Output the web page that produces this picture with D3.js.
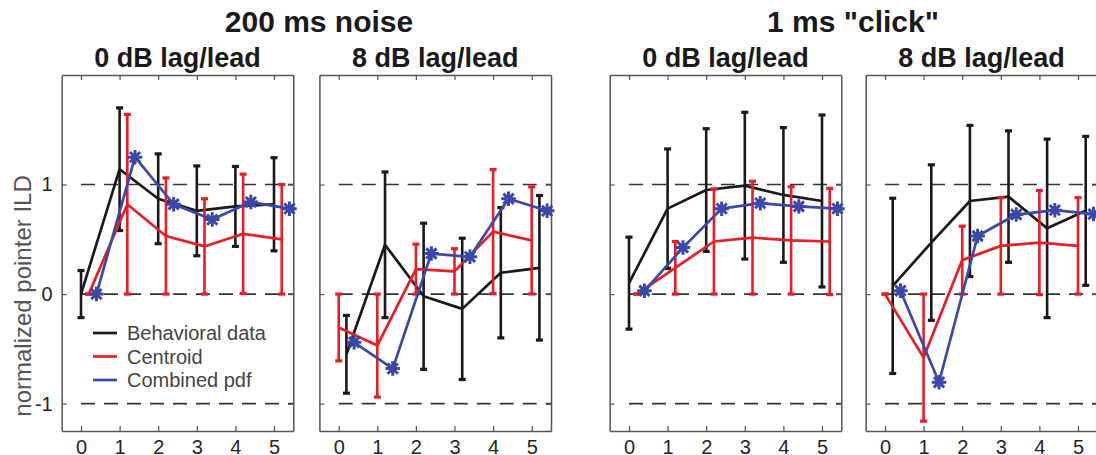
<!DOCTYPE html>
<html>
<head>
<meta charset="utf-8">
<script src="https://cdn.jsdelivr.net/npm/d3@7"></script>
<style>
  body { margin: 0; background: #fff; }
  svg { display: block; font-family: "Liberation Sans", Arial, sans-serif; }
</style>
</head>
<body>
<div id="chart"></div>
<script>
// x positions (lag/lead conditions) and y ticks
var xTicks = [0, 1, 2, 3, 4, 5];
var yTicks = [-1, 0, 1];

// 200 ms noise, 0 dB
var noise0Behav = [0, 1.14, 0.87, 0.76, 0.80, 0.82];
var noise0BehavErr = [0.215, 0.56, 0.41, 0.41, 0.365, 0.425];
var noise0Centroid = [0, 0.82, 0.53, 0.435, 0.55, 0.50];
var noise0CentroidErr = [0, 0.82, 0.53, 0.435, 0.545, 0.50];
var noise0Pdf = [0, 1.25, 0.82, 0.68, 0.84, 0.78];

// 200 ms noise, 8 dB
var noise8Behav = [-0.55, 0.45, -0.02, -0.135, 0.195, 0.24];
var noise8BehavErr = [0.355, 0.665, 0.667, 0.645, 0.595, 0.66];
var noise8Centroid = [-0.305, -0.47, 0.228, 0.207, 0.57, 0.49];
var noise8CentroidErr = [0.305, 0.47, 0.228, 0.207, 0.567, 0.489];
var noise8Pdf = [-0.44, -0.68, 0.37, 0.34, 0.87, 0.76];

// 1 ms click, 0 dB
var click0Behav = [0.10, 0.78, 0.95, 0.99, 0.905, 0.85];
var click0BehavErr = [0.42, 0.545, 0.56, 0.67, 0.615, 0.785];
var click0Centroid = [0, 0.24, 0.48, 0.515, 0.49, 0.48];
var click0CentroidErr = [0, 0.24, 0.48, 0.515, 0.49, 0.485];
var click0Pdf = [0.03, 0.425, 0.78, 0.83, 0.80, 0.78];

// 1 ms click, 8 dB
var click8Behav = [0.075, 0.47, 0.85, 0.89, 0.60, 0.76];
var click8BehavErr = [0.80, 0.71, 0.69, 0.60, 0.815, 0.68];
var click8Centroid = [0, -0.58, 0.31, 0.44, 0.47, 0.44];
var click8CentroidErr = [0, 0.58, 0.31, 0.44, 0.475, 0.44];
var click8Pdf = [0.03, -0.805, 0.53, 0.726, 0.766, 0.73];

var seriesNames = ['Behavioral data', 'Centroid', 'Combined pdf'];
var colors = { behav: '#1a1a1a', centroid: '#ec1c24', pdf: '#3a48a8' };

// panels: black / red offsets swap in the 8 dB panels
var panels = [
	{ title: '0 dB lag/lead', left: 61.7, behav: noise0Behav, behavErr: noise0BehavErr, cen: noise0Centroid, cenErr: noise0CentroidErr, pdf: noise0Pdf, behavOff: 0, cenOff: 0.2 },
	{ title: '8 dB lag/lead', left: 319.4, behav: noise8Behav, behavErr: noise8BehavErr, cen: noise8Centroid, cenErr: noise8CentroidErr, pdf: noise8Pdf, behavOff: 0.2, cenOff: 0 },
	{ title: '0 dB lag/lead', left: 609.7, behav: click0Behav, behavErr: click0BehavErr, cen: click0Centroid, cenErr: click0CentroidErr, pdf: click0Pdf, behavOff: 0, cenOff: 0.2 },
	{ title: '8 dB lag/lead', left: 865.7, behav: click8Behav, behavErr: click8BehavErr, cen: click8Centroid, cenErr: click8CentroidErr, pdf: click8Pdf, behavOff: 0.2, cenOff: 0 }
];
var groupTitles = [
	{ text: '200 ms noise', x: 319 },
	{ text: '1 ms "click"', x: 853 }
];

var width = 1096, height = 455;
var plotTop = 75, plotBottom = 431, panelW = 231.6;
var pdfOff = 0.4;

var svg = d3.select('#chart')
	.append('svg')
	.attr('width', width)
	.attr('height', height);

var y = d3.scaleLinear().domain([-1.25, 2]).range([plotBottom, plotTop]);

// custom 8-spoke asterisk marker
var asterisk = {
	draw: function(ctx, size) {
		var r = Math.sqrt(size) / 2;
		for (var i = 0; i < 4; i++) {
			var a = i * Math.PI / 4;
			ctx.moveTo(-r * Math.cos(a), -r * Math.sin(a));
			ctx.lineTo(r * Math.cos(a), r * Math.sin(a));
		}
	}
};

groupTitles.forEach(function(t) {
	svg.append('text')
		.attr('x', t.x)
		.attr('y', 32)
		.attr('text-anchor', 'middle')
		.style('font-size', '30px')
		.style('font-weight', 'bold')
		.style('fill', '#1a1a1a')
		.text(t.text);
});

function errorBars(g, x, xs, means, errs, color) {
	var cap = 3.5;
	var bars = g.append('g').selectAll('g').data(xs).enter().append('g');
	bars.append('line')
		.attr('x1', function(d) { return x(d); })
		.attr('x2', function(d) { return x(d); })
		.attr('y1', function(d, i) { return y(means[i] + errs[i]); })
		.attr('y2', function(d, i) { return y(means[i] - errs[i]); })
		.style('stroke', color)
		.style('stroke-width', 2.6);
	[1, -1].forEach(function(s) {
		bars.append('line')
			.attr('x1', function(d) { return x(d) - cap; })
			.attr('x2', function(d) { return x(d) + cap; })
			.attr('y1', function(d, i) { return y(means[i] + s * errs[i]); })
			.attr('y2', function(d, i) { return y(means[i] + s * errs[i]); })
			.style('stroke', color)
			.style('stroke-width', 3.2);
	});
}

function seriesLine(g, x, xs, vals, color) {
	var line = d3.line()
		.x(function(d) { return x(d[0]); })
		.y(function(d) { return y(d[1]); });
	g.append('path')
		.datum(d3.zip(xs, vals))
		.attr('d', line)
		.style('fill', 'none')
		.style('stroke', color)
		.style('stroke-width', 2.7)
		.style('stroke-linejoin', 'round');
}

panels.forEach(function(p, pi) {
	var x = d3.scaleLinear().domain([-0.5, 5.5]).range([p.left, p.left + panelW]);
	var g = svg.append('g');

	// dashed reference lines at -1, 0, 1
	g.selectAll('.ref').data(yTicks).enter().append('line')
		.attr('class', 'ref')
		.attr('x1', x(0))
		.attr('x2', x(5.5))
		.attr('y1', function(d) { return y(d); })
		.attr('y2', function(d) { return y(d); })
		.style('stroke', '#333')
		.style('stroke-width', 1.6)
		.style('stroke-dasharray', '14,9');

	// axes (ticks point inwards)
	var axB = g.append('g').attr('transform', 'translate(0,' + plotBottom + ')')
		.call(d3.axisBottom(x).tickValues(xTicks).tickSizeInner(-5).tickSizeOuter(0).tickPadding(9)
			.tickFormat(function(d) { return String(d); }));
	var axT = g.append('g').attr('transform', 'translate(0,' + plotTop + ')')
		.call(d3.axisTop(x).tickValues(xTicks).tickSizeInner(-5).tickSizeOuter(0).tickFormat(''));
	var axL = g.append('g').attr('transform', 'translate(' + p.left + ',0)')
		.call(d3.axisLeft(y).tickValues(yTicks).tickSizeInner(-5).tickSizeOuter(0).tickPadding(9)
			.tickFormat(function(d) { return pi === 0 ? String(d) : ''; }));
	var axR = g.append('g').attr('transform', 'translate(' + (p.left + panelW) + ',0)')
		.call(d3.axisRight(y).tickValues(yTicks).tickSizeInner(-5).tickSizeOuter(0).tickFormat(''));
	[axB, axT, axL, axR].forEach(function(a) {
		a.select('.domain').style('stroke', '#555').style('stroke-width', 1.5);
		a.selectAll('.tick line').style('stroke', '#555').style('stroke-width', 1.2);
		a.selectAll('.tick text')
			.style('font-size', '20px')
			.style('fill', '#262626')
			.style('font-family', '"Liberation Sans", Arial, sans-serif');
	});

	g.append('text')
		.attr('x', p.left + panelW / 2)
		.attr('y', 67)
		.attr('text-anchor', 'middle')
		.style('font-size', '27px')
		.style('font-weight', 'bold')
		.style('fill', '#1a1a1a')
		.text(p.title);

	var bx = xTicks.map(function(d) { return d + p.behavOff; });
	var cx = xTicks.map(function(d) { return d + p.cenOff; });
	var px = xTicks.map(function(d) { return d + pdfOff; });

	errorBars(g, x, bx, p.behav, p.behavErr, colors.behav);
	seriesLine(g, x, bx, p.behav, colors.behav);
	errorBars(g, x, cx, p.cen, p.cenErr, colors.centroid);
	seriesLine(g, x, cx, p.cen, colors.centroid);
	seriesLine(g, x, px, p.pdf, colors.pdf);

	g.selectAll('.star').data(px).enter().append('path')
		.attr('class', 'star')
		.attr('transform', function(d, i) { return 'translate(' + x(d) + ',' + y(p.pdf[i]) + ')'; })
		.attr('d', d3.symbol().type(asterisk).size(210))
		.style('fill', 'none')
		.style('stroke', colors.pdf)
		.style('stroke-width', 3);
});

// y axis label
svg.append('text')
	.attr('transform', 'translate(31,' + 296 + ') rotate(-90)')
	.attr('text-anchor', 'middle')
	.style('font-size', '24px')
	.style('fill', '#555')
	.text('normalized pointer ILD');

// legend
var legendColors = [colors.behav, colors.centroid, colors.pdf];
var legend = svg.append('g').selectAll('g').data(seriesNames).enter().append('g')
	.attr('transform', function(d, i) { return 'translate(93,' + (333 + i * 23.5) + ')'; });
legend.append('line')
	.attr('x1', 0).attr('x2', 24)
	.style('stroke', function(d, i) { return legendColors[i]; })
	.style('stroke-width', 2.7);
legend.append('text')
	.attr('x', 34)
	.attr('dy', '0.35em')
	.style('font-size', '20px')
	.style('fill', '#444')
	.text(function(d) { return d; });
</script>
</body>
</html>
